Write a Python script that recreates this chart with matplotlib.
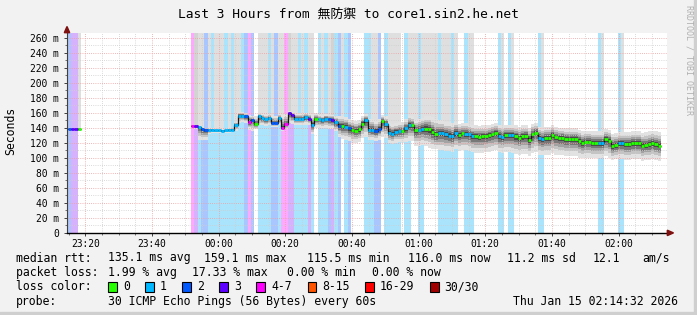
import numpy as np
import matplotlib
matplotlib.use("Agg")
import matplotlib.pyplot as plt
from matplotlib.patches import Rectangle, Polygon

# ---------------- data (minutes relative to 00:00, one column per minute) ----------------
view_start, view_end = -45.47, 134.53   # 23:14:32 .. 02:14:32

# first short block (23:15 - 23:18)
start_a = -45
median_a = [138, 138, 138, 138]
loss_a = [2, 3, 3, 0]
top_a = [0, 0, 0, 1]
lo_a = [136, 136, 136, 136]
hi_a = [140, 140, 140, 140]

# main block starting 23:52 (141 minutes)
start_b = -8
median_b = [142, 142, 141, 138, 137.5, 137, 137, 136.5,
            136.5, 136, 136.5, 137, 137.5, 143.5, 156, 156, 155, 148,
            150, 145, 155, 153, 151, 153, 146, 146, 153, 139.5,
            144.5, 159, 156.5, 152, 151.5, 152, 154, 152, 143, 152,
            151, 150, 152, 151, 150.5, 147, 142, 142, 141.5, 139,
            137.5, 136, 138, 145.5, 150.5, 137.5, 137, 135, 138.5, 149.5,
            145, 133.5, 132, 134.5, 135.5, 135.5, 139, 144, 143.5, 136.5,
            137.5, 138.5, 138.5, 138, 134.5, 131, 132.5, 133, 131, 129.5,
            128.5, 133, 130.5, 132.5, 132, 131, 128.5, 128.5, 128, 128.5,
            128.5, 130, 131, 133, 129, 128, 130, 130, 130, 128.5,
            126.5, 128.5, 129, 124, 131, 133.5, 126.5, 125, 126.5, 126.5,
            130, 127.5, 126, 126.5, 125, 125, 125, 125, 122.5, 120,
            121.5, 121.5, 120, 120, 120, 120, 125, 122.5, 115.5, 117,
            119, 119, 118, 118, 119.5, 119, 119, 116, 117, 118,
            119.5, 118, 116]
loss_b = [4, 3, 1, 2, 2, 1, 1, 1,
          1, 1, 1, 1, 1, 1, 1, 1, 2, 4,
          2, 0, 1, 1, 1, 1, 2, 2, 1, 4,
          4, 3, 3, 1, 1, 1, 1, 3, 1, 0,
          1, 1, 1, 2, 3, 1, 2, 0, 1, 2,
          0, 0, 0, 0, 1, 1, 1, 2, 2, 0,
          1, 1, 1, 1, 1, 0, 1, 1, 0, 0,
          1, 1, 0, 0, 0, 0, 1, 1, 1, 1,
          1, 1, 0, 0, 1, 1, 1, 0, 0, 0,
          0, 0, 0, 0, 1, 1, 0, 1, 1, 0,
          0, 0, 0, 0, 0, 0, 1, 1, 0, 0,
          0, 0, 0, 0, 0, 0, 0, 0, 0, 0,
          0, 0, 0, 0, 1, 1, 0, 0, 0, 0,
          1, 1, 0, 0, 0, 0, 0, 0, 0, 0,
          0, 0, 0]
top_b = [0, 2, 1, 1, 0, 1, 0, 1,
         1, 1, 0, 1, 0, 1, 1, 0, 0, 0,
         0, 0, 1, 1, 1, 0, 1, 0, 1, 1,
         0, 2, 1, 1, 0, 1, 0, 1, 1, 0,
         0, 1, 0, 1, 2, 0, 0, 1, 0, 0,
         0, 0, 0, 0, 0, 0, 1, 1, 0, 0,
         0, 1, 1, 1, 1, 0, 0, 1, 1, 1,
         0, 1, 1, 1, 1, 1, 0, 1, 1, 1,
         0, 1, 0, 0, 0, 1, 1, 0, 0, 0,
         0, 0, 0, 0, 0, 1, 0, 0, 1, 0,
         0, 0, 0, 0, 0, 0, 0, 1, 0, 0,
         0, 0, 0, 0, 0, 0, 0, 0, 0, 0,
         0, 0, 0, 0, 0, 1, 0, 0, 0, 0,
         0, 1, 0, 0, 0, 0, 0, 0, 0, 0,
         0, 0, 0]
lo_b = [140, 138, 124, 123, 123, 132, 133, 133,
        133, 133, 133, 133, 134, 136, 146, 147, 146, 137,
        135, 138, 143, 143, 142, 143, 141, 141, 143, 136,
        138, 146, 145, 143, 144, 144, 144, 143, 131, 140,
        140, 139, 140, 138, 138, 135, 128, 125, 124, 122,
        120, 120, 121, 126, 128, 124, 123, 122, 124, 128,
        126, 119, 118, 120, 121, 120, 121, 122, 122, 116,
        116, 117, 115, 113, 112, 111, 110, 110, 109, 109,
        108, 111, 109, 110, 110, 109, 107, 106, 106, 106,
        107, 108, 109, 110, 107, 106, 107, 107, 106, 105,
        104, 105, 105, 102, 106, 108, 104, 103, 104, 104,
        106, 104, 103, 103, 102, 102, 102, 102, 100, 99,
        100, 100, 99, 99, 99, 99, 102, 100, 97, 98,
        98, 98, 97, 97, 98, 98, 98, 96, 97, 97,
        98, 97, 96]
hi_b = [144, 144, 142, 141, 140, 139, 139, 138,
        138, 138, 138, 139, 140, 148, 161, 161, 160, 157,
        156, 155, 159, 158, 157, 158, 156, 155, 158, 157,
        158, 162, 161, 160, 159, 159, 160, 159, 158, 159,
        158, 157, 158, 157, 157, 156, 155, 155, 154, 152,
        150, 149, 150, 156, 158, 152, 152, 150, 151, 157,
        155, 146, 145, 146, 147, 147, 151, 156, 155, 150,
        152, 153, 156, 156, 154, 152, 150, 150, 148, 147,
        146, 148, 145, 146, 146, 145, 144, 143, 142, 143,
        143, 144, 145, 146, 144, 143, 144, 144, 144, 143,
        141, 143, 143, 140, 145, 146, 141, 140, 141, 141,
        143, 141, 140, 140, 139, 139, 139, 139, 137, 135,
        136, 136, 135, 135, 135, 135, 138, 137, 132, 133,
        134, 134, 134, 134, 135, 135, 135, 133, 134, 135,
        136, 135, 134]

y_top = 266.7
y_ticks = [0, 20, 40, 60, 80, 100, 120, 140, 160, 180, 200, 220, 240, 260]
y_labels = ["0", "20 m", "40 m", "60 m", "80 m", "100 m", "120 m", "140 m", "160 m",
            "180 m", "200 m", "220 m", "240 m", "260 m"]
x_ticks = [-40, -20, 0, 20, 40, 60, 80, 100, 120]
x_labels = ["23:20", "23:40", "00:00", "00:20", "00:40", "01:00", "01:20", "01:40", "02:00"]

loss_names = ["0", "1", "2", "3", "4-7", "8-15", "16-29", "30/30"]
loss_line_colors = ["#26ff00", "#00b8ff", "#0059ff", "#5e00ff", "#ff00ff", "#ff5500", "#ff0000", "#a10000"]
loss_bg_colors = ["none", "#aae4fc", "#aac6ff", "#d6b2fc", "#ffa8ff", "#ffccaa", "#ffaaaa", "#e0aaaa"]

title = "Last 3 Hours from 無防禦 to core1.sin2.he.net"
rtt_items = ["median rtt:", "135.1 ms avg", "159.1 ms max", "115.5 ms min", "116.0 ms now",
             "11.2 ms sd", "12.1", "am/s"]
loss_items = ["packet loss:", "1.99 % avg", "17.33 % max", "0.00 % min", "0.00 % now"]
probe_items = ["probe:", "30 ICMP Echo Pings (56 Bytes) every 60s", "Thu Jan 15 02:14:32 2026"]

# ---------------- figure ----------------
W, H = 697, 315
fig = plt.figure(figsize=(W / 100, H / 100), dpi=100, facecolor="#f2f2f2")
mono = ["DejaVu Sans Mono", "Noto Sans CJK JP"]


def fx(px):
    return px / W


def fy(py):
    return 1 - py / H


# frame shading
fig.add_artist(Rectangle((0, 0), 1, 3 / H, transform=fig.transFigure, color="#cfcfcf", zorder=0))
fig.add_artist(Rectangle((1 - 3 / W, 0), 3 / W, 1, transform=fig.transFigure, color="#cfcfcf", zorder=0))

ax = fig.add_axes([fx(67), fy(232.7), 600 / W, 200 / H])
ax.set_facecolor("white")
ax.set_xlim(view_start, view_end)
ax.set_ylim(0, y_top)

blocks = [(start_a, median_a, loss_a, top_a, lo_a, hi_a),
          (start_b, median_b, loss_b, top_b, lo_b, hi_b)]

shift = -0.3
band_fr = [0.0, 0.3, 0.5, 0.66, 0.82]
band_col = ["#e2e2e2", "#c4c4c4", "#a2a2a2", "#787878", "#4a4a4a"]

for start, med, loss, top, lo, hi in blocks:
    n = min(len(med), len(loss), len(top), len(lo), len(hi))
    med = np.asarray(med[:n], float)
    lo = np.asarray(lo[:n], float)
    hi = np.asarray(hi[:n], float)
    loss = list(loss[:n])
    top = list(top[:n])
    left = start + np.arange(n) + shift
    for i in range(n):
        if loss[i] > 0:
            ax.bar(left[i], y_top, width=1.0, align="edge", color=loss_bg_colors[loss[i]],
                   linewidth=0, zorder=1)
    for i in range(n):
        if top[i] > 0:
            c = "#dfdfdf" if top[i] == 1 else "#d3d3d3"
            ax.bar(left[i], y_top - hi[i], bottom=hi[i], width=1.0, align="edge", color=c,
                   linewidth=0, zorder=1.1)
    for f, c in zip(band_fr, band_col):
        b = med - (med - lo) * (1 - f)
        t = med + (hi - med) * (1 - f)
        ax.bar(left, t - b, bottom=b, width=1.0, align="edge", color=c, linewidth=0, zorder=1.2)
    edges = np.append(left, left[-1] + 1)
    ax.stairs(med, edges, baseline=None, color="#151515", lw=0.9, zorder=2)
    ax.hlines(med, left, left + 1, colors=[loss_line_colors[k] for k in loss], lw=2.0, zorder=2.1)

# grid
dot = (0, (0.72, 1.44))
for m in np.arange(-45, 135, 5):
    if m % 20 != 0:
        ax.axvline(m, color="#cfcfcf", lw=0.72, ls=dot, zorder=1.5)
for m in x_ticks:
    ax.axvline(m, color="#eda0a0", lw=0.72, ls=dot, zorder=1.6)
for v in range(10, 270, 20):
    ax.axhline(v, color="#cfcfcf", lw=0.72, ls=dot, zorder=1.5)
for v in y_ticks[1:]:
    ax.axhline(v, color="#eda0a0", lw=0.72, ls=dot, zorder=1.6)

# axes
for s in ["top", "right"]:
    ax.spines[s].set_visible(False)
ax.spines["left"].set_color("#404040")
ax.spines["left"].set_linewidth(0.8)
ax.spines["bottom"].set_color("#000000")
ax.spines["bottom"].set_linewidth(1.0)
ax.spines["left"].set_zorder(3)
ax.spines["bottom"].set_zorder(3)

ax.set_yticks(y_ticks)
ax.set_yticklabels(y_labels, family="DejaVu Sans Mono", fontsize=6.9)
ax.set_yticks(list(range(10, 270, 20)), minor=True)
ax.set_xticks(x_ticks)
ax.set_xticklabels(x_labels, family="DejaVu Sans Mono", fontsize=6.9)
ax.set_xticks(list(range(-45, 135, 5)), minor=True)
ax.tick_params(axis="y", which="major", direction="out", length=2.0, width=0.7, color="#404040", pad=3.8)
ax.tick_params(axis="y", which="minor", direction="out", length=1.2, width=0.6, color="#606060")
ax.tick_params(axis="x", which="major", direction="out", length=2.2, width=0.7, color="#404040", pad=2.0)
ax.tick_params(axis="x", which="minor", direction="out", length=1.2, width=0.6, color="#606060")

# arrows
arrow_col = "#7f1010"
fig.add_artist(Polygon([(fx(67), fy(26.5)), (fx(64.3), fy(32.7)), (fx(69.7), fy(32.7))],
                       closed=True, transform=fig.transFigure, color=arrow_col, zorder=5))
fig.add_artist(Polygon([(fx(673.5), fy(232.9)), (fx(667.3), fy(230.2)), (fx(667.3), fy(235.6))],
                       closed=True, transform=fig.transFigure, color=arrow_col, zorder=5))

# texts
fig.text(0.5, fy(14.5), title, ha="center", va="center", fontsize=9.3, family=mono, color="#000000")
fig.text(fx(11), fy(131), "Seconds", rotation=90, ha="center", va="center", fontsize=8.3,
         family=mono)
fig.text(fx(688.5), fy(5), "RRDTOOL / TOBI OETIKER", rotation=-90, ha="center", va="top",
         fontsize=6, family=mono, color="#b0b0b0")

leg_fs = 8.3
rtt_x = [16, 107.6, 204, 306.7, 408, 506.7, 593, 642]
for s, x in zip(rtt_items, rtt_x):
    fig.text(fx(x), fy(258), s, ha="left", va="center", fontsize=leg_fs, family=mono)
loss_x = [16, 107.6, 192.4, 286.7, 372]
for s, x in zip(loss_items, loss_x):
    fig.text(fx(x), fy(272.5), s, ha="left", va="center", fontsize=leg_fs, family=mono)
fig.text(fx(16), fy(287), "loss color:", ha="left", va="center", fontsize=leg_fs, family=mono)
box_x = [108, 145.3, 182.2, 219, 256, 307.6, 365, 430]
lab_x = [123.6, 160, 197, 234, 271, 322, 380, 444.4]
for name, col, bx, lx in zip(loss_names, loss_line_colors, box_x, lab_x):
    fig.add_artist(Rectangle((fx(bx), fy(292)), 8.5 / W, 10 / H, transform=fig.transFigure,
                             facecolor=col, edgecolor="#000000", lw=0.8))
    fig.text(fx(lx), fy(287), name, ha="left", va="center", fontsize=leg_fs, family=mono)
probe_x = [16, 107.6, 513.3]
for s, x in zip(probe_items, probe_x):
    fig.text(fx(x), fy(301.5), s, ha="left", va="center", fontsize=leg_fs, family=mono)

fig.savefig("out.png", dpi=100, facecolor=fig.get_facecolor())
